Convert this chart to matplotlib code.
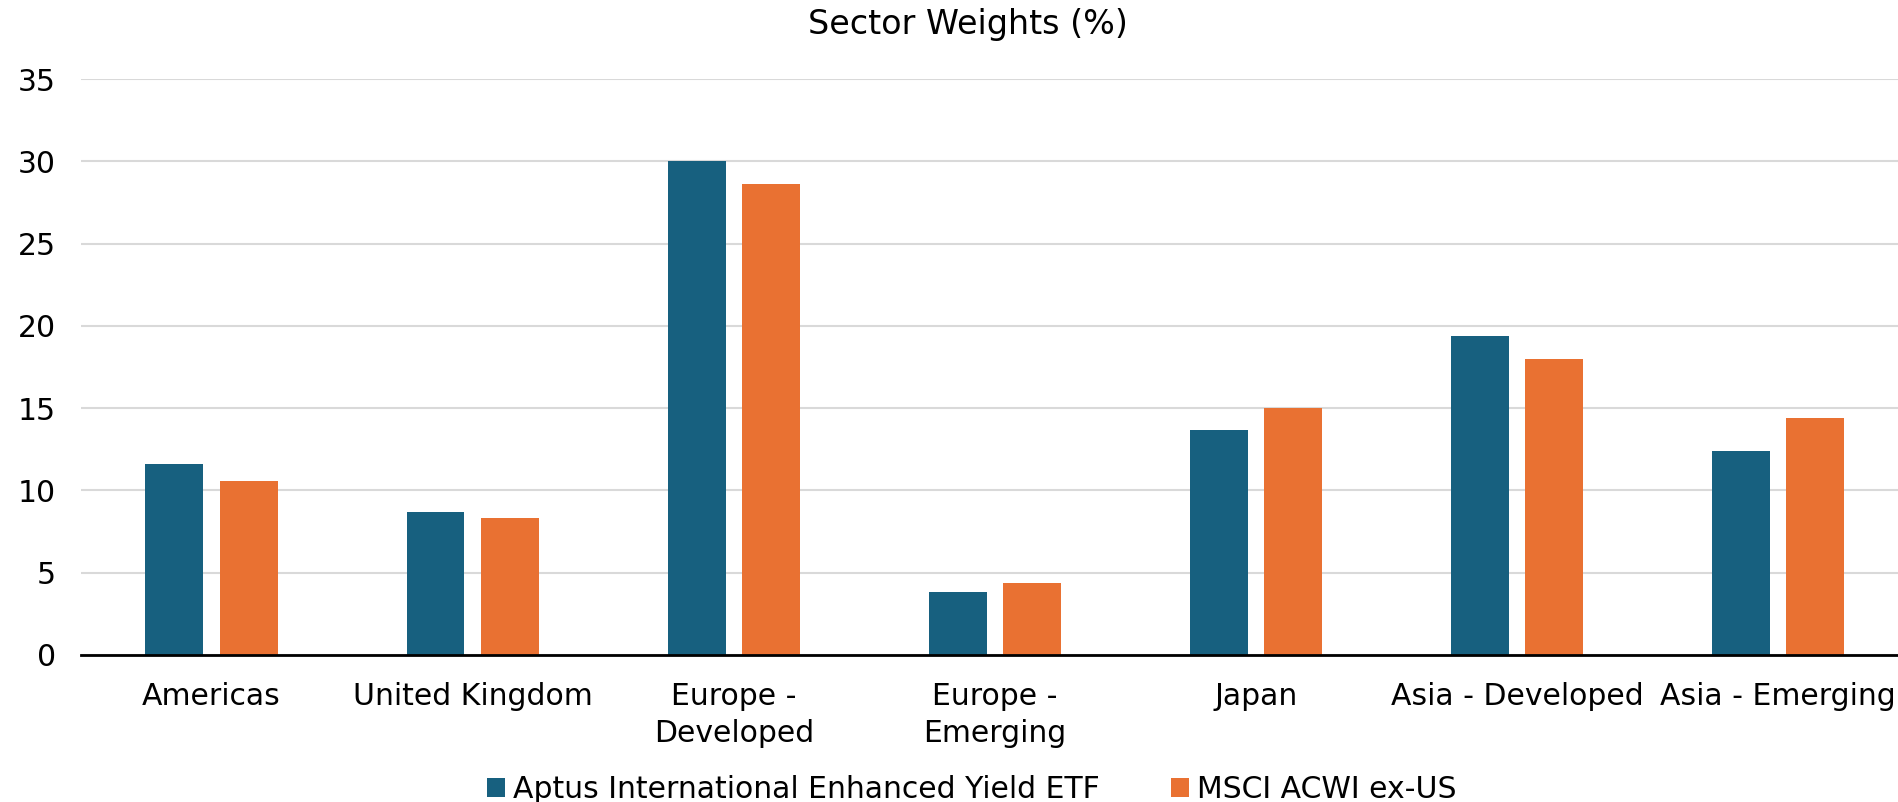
import numpy as np
import matplotlib
matplotlib.use("Agg")
import matplotlib.pyplot as plt

categories = ["Americas", "United Kingdom", "Europe -\nDeveloped", "Europe -\nEmerging",
              "Japan", "Asia - Developed", "Asia - Emerging"]
aptus = [11.6, 8.7, 30.0, 3.8, 13.7, 19.4, 12.4]
msci = [10.6, 8.3, 28.6, 4.4, 15.0, 18.0, 14.4]
y_ticks = [0, 5, 10, 15, 20, 25, 30, 35]

plt.rcParams['font.family'] = ['DejaVu Sans']

fig = plt.figure(figsize=(18.98, 8.02), dpi=100)
ax = fig.add_axes([0.0427, 0.1833, 0.963, 0.718])

x = np.arange(len(categories))
w = 0.222
off = 0.1425
ax.bar(x - off, aptus, width=w, color='#17607F', label='Aptus International Enhanced Yield ETF', zorder=3)
ax.bar(x + off, msci, width=w, color='#E97132', label='MSCI ACWI ex-US', zorder=3)

ax.set_xlim(-0.5, len(categories) - 0.5)
ax.set_ylim(0, 35)
ax.set_yticks(y_ticks)
ax.set_xticks(x)
ax.set_xticklabels(categories, fontsize=21.5, linespacing=1.35)
ax.tick_params(axis='y', labelsize=21.5, length=0, pad=18)
ax.tick_params(axis='x', length=0, pad=19.5)
ax.grid(axis='y', color='#D9D9D9', linewidth=1.5, zorder=0)
for s in ['top', 'right', 'left']:
    ax.spines[s].set_visible(False)
ax.spines['bottom'].set_linewidth(2)
ax.spines['bottom'].set_color('black')
ax.spines['bottom'].set_zorder(4)

fig.text(0.51, 0.969, "Sector Weights (%)", ha='center', va='center', fontsize=24)

fig.legend(loc='center', bbox_to_anchor=(0.512, 0.015), ncol=2, frameon=False,
           fontsize=21.5, handlelength=0.6, handleheight=0.6, handletextpad=0.25,
           columnspacing=2.4)

fig.savefig("out.png", dpi=100)
